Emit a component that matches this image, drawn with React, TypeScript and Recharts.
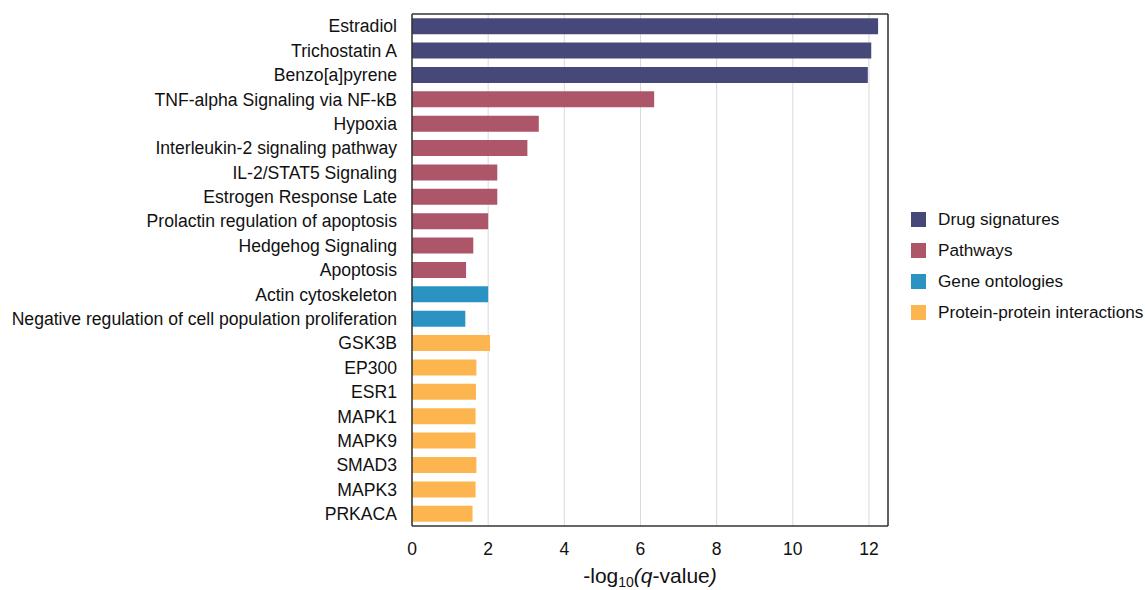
import React from 'react';
import { BarChart, Bar, XAxis, YAxis, CartesianGrid, Cell } from 'recharts';

const categories = [
  'Estradiol', 'Trichostatin A', 'Benzo[a]pyrene',
  'TNF-alpha Signaling via NF-kB', 'Hypoxia', 'Interleukin-2 signaling pathway',
  'IL-2/STAT5 Signaling', 'Estrogen Response Late', 'Prolactin regulation of apoptosis',
  'Hedgehog Signaling', 'Apoptosis',
  'Actin cytoskeleton', 'Negative regulation of cell population proliferation',
  'GSK3B', 'EP300', 'ESR1', 'MAPK1', 'MAPK9', 'SMAD3', 'MAPK3', 'PRKACA',
];
const values = [
  12.24, 12.06, 11.97,
  6.36, 3.33, 3.03, 2.24, 2.24, 2.0, 1.61, 1.42,
  2.0, 1.4,
  2.05, 1.69, 1.68, 1.67, 1.67, 1.69, 1.67, 1.59,
];
const groupOf = [
  0, 0, 0,
  1, 1, 1, 1, 1, 1, 1, 1,
  2, 2,
  3, 3, 3, 3, 3, 3, 3, 3,
];
const groupNames = ['Drug signatures', 'Pathways', 'Gene ontologies', 'Protein-protein interactions'];
const groupColors = ['#46487A', '#AD5669', '#2B93C1', '#FDB64F'];
const xTicks = [0, 2, 4, 6, 8, 10, 12];
const xMax = 12.5;

const data = categories.map((name, i) => ({ name, value: values[i], group: groupOf[i] }));

const FONT = 'Liberation Sans, Arial, sans-serif';

const XLabel = (props: any) => {
  const vb = props.viewBox || {};
  const cx = vb.x + vb.width / 2;
  return (
    <text x={cx} y={583} textAnchor="middle" fontFamily={FONT} fontSize={21} fill="#111">
      <tspan>-log</tspan>
      <tspan fontSize={14} dy={4}>10</tspan>
      <tspan dy={-4} fontStyle="italic">(q</tspan>
      <tspan>-value</tspan>
      <tspan fontStyle="italic">)</tspan>
    </text>
  );
};

export default function App() {
  return (
    <div style={{ position: 'absolute', left: 0, top: 0, width: 1145, height: 590, background: '#fff' }}>
      <BarChart
        width={1145}
        height={590}
        data={data}
        layout="vertical"
        margin={{ top: 13, right: 256, bottom: 0, left: 0 }}
        barCategoryGap="17%"
      >
        <CartesianGrid horizontal={false} vertical={true} stroke="#d9d9d9" strokeWidth={1} />
        <XAxis
          type="number"
          domain={[0, xMax]}
          allowDataOverflow={true}
          ticks={xTicks}
          tickLine={false}
          axisLine={{ stroke: '#333', strokeWidth: 1.5 }}
          tick={{ fontFamily: FONT, fontSize: 17.5, fill: '#111' }}
          tickMargin={11}
          height={64}
          label={<XLabel />}
        />
        <XAxis
          xAxisId="top"
          orientation="top"
          type="number"
          domain={[0, xMax]}
          allowDataOverflow={true}
          tick={false}
          tickLine={false}
          height={1}
          axisLine={{ stroke: '#333', strokeWidth: 1.5 }}
        />
        <YAxis
          type="category"
          dataKey="name"
          width={412}
          tickLine={false}
          tickSize={0}
          tickMargin={15}
          interval={0}
          axisLine={{ stroke: '#333', strokeWidth: 1.5 }}
          tick={{ fontFamily: FONT, fontSize: 17.6, fill: '#111' }}
        />
        <YAxis
          yAxisId="right"
          orientation="right"
          type="category"
          dataKey="name"
          width={1}
          tick={false}
          tickLine={false}
          axisLine={{ stroke: '#333', strokeWidth: 1.5 }}
        />
        <Bar dataKey="value" isAnimationActive={false} legendType="none">
          {data.map((d, i) => (
            <Cell key={i} fill={groupColors[d.group]} />
          ))}
        </Bar>
      </BarChart>
      <div style={{ position: 'absolute', left: 911, top: 204, fontFamily: FONT, fontSize: 17.2, color: '#111', width: 240 }}>
        {groupNames.map((g, i) => (
          <div key={g} style={{ display: 'flex', alignItems: 'center', height: 31 }}>
            <div style={{ width: 15, height: 15, background: groupColors[i], marginRight: 12, flexShrink: 0 }} />
            <span style={{ whiteSpace: 'nowrap' }}>{g}</span>
          </div>
        ))}
      </div>
    </div>
  );
}
